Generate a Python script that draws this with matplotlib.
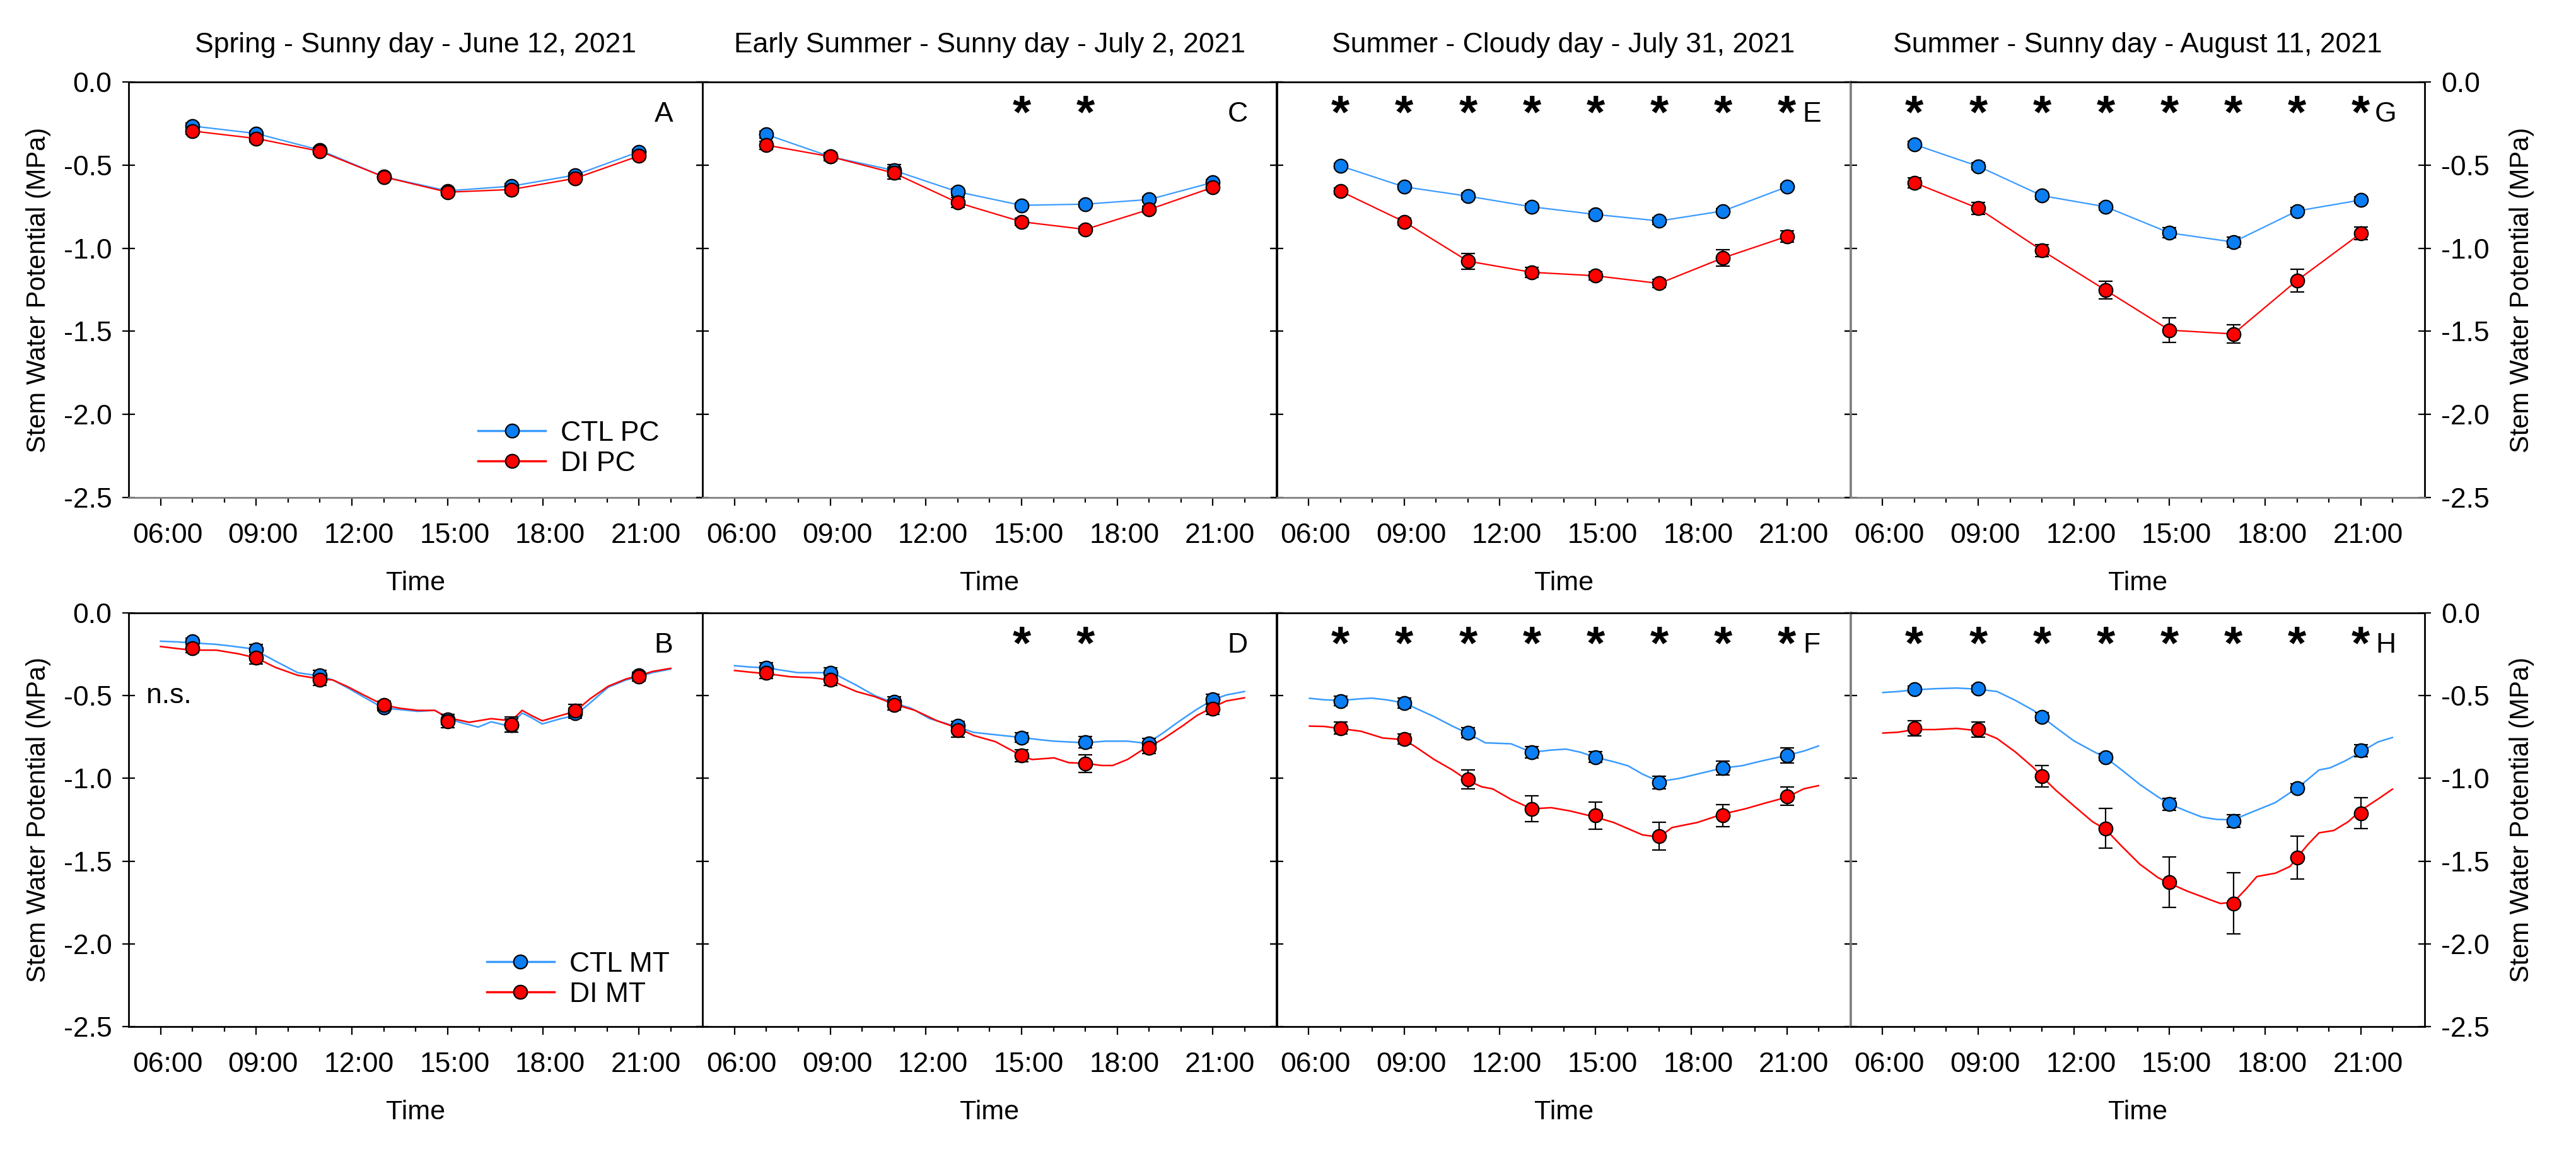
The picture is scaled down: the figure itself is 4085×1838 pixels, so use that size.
import matplotlib
matplotlib.use('Agg')
import matplotlib.pyplot as plt
import matplotlib.transforms as mtransforms
from matplotlib.lines import Line2D

plt.rcParams['font.family'] = ['Liberation Sans', 'DejaVu Sans']

# ---------------- data ----------------
obs_time = [7, 9, 11, 13, 15, 17, 19, 21]
xtick_pos = [6, 9, 12, 15, 18, 21]
xtick_labels = ['06:00', '09:00', '12:00', '15:00', '18:00', '21:00']
ytick_pos = [0.0, -0.5, -1.0, -1.5, -2.0, -2.5]
ytick_labels = ['0.0', '-0.5', '-1.0', '-1.5', '-2.0', '-2.5']

titles = ['Spring - Sunny day - June 12, 2021',
          'Early Summer - Sunny day - July 2, 2021',
          'Summer - Cloudy day - July 31, 2021',
          'Summer - Sunny day - August 11, 2021']
panel_letters_top = ['A', 'C', 'E', 'G']
panel_letters_bot = ['B', 'D', 'F', 'H']
legend_top = ['CTL PC', 'DI PC']
legend_bot = ['CTL MT', 'DI MT']

# Top row (PC) means and SE
ctl_pc_A = [-0.265, -0.31, -0.41, -0.57, -0.655, -0.627, -0.56, -0.42]
di_pc_A = [-0.295, -0.34, -0.417, -0.571, -0.663, -0.647, -0.58, -0.445]
ctl_pc_A_se = [0.02, 0.015, 0.015, 0.015, 0.015, 0.015, 0.015, 0.015]
di_pc_A_se = [0.02, 0.02, 0.015, 0.015, 0.02, 0.02, 0.02, 0.015]

ctl_pc_C = [-0.316, -0.449, -0.532, -0.661, -0.742, -0.735, -0.707, -0.604]
di_pc_C = [-0.380, -0.449, -0.548, -0.726, -0.841, -0.887, -0.767, -0.634]
ctl_pc_C_se = [0.02, 0.02, 0.035, 0.02, 0.015, 0.015, 0.015, 0.015]
di_pc_C_se = [0.025, 0.025, 0.035, 0.03, 0.02, 0.02, 0.02, 0.02]

ctl_pc_E = [-0.505, -0.631, -0.687, -0.751, -0.797, -0.836, -0.776, -0.631]
di_pc_E = [-0.657, -0.841, -1.078, -1.145, -1.166, -1.212, -1.058, -0.929]
ctl_pc_E_se = [0.015, 0.015, 0.02, 0.02, 0.02, 0.02, 0.015, 0.015]
di_pc_E_se = [0.02, 0.02, 0.047, 0.03, 0.025, 0.025, 0.05, 0.035]

ctl_pc_G = [-0.376, -0.507, -0.684, -0.751, -0.908, -0.963, -0.776, -0.710]
di_pc_G = [-0.606, -0.760, -1.014, -1.253, -1.493, -1.516, -1.194, -0.910]
ctl_pc_G_se = [0.02, 0.02, 0.02, 0.02, 0.03, 0.03, 0.02, 0.02]
di_pc_G_se = [0.03, 0.035, 0.035, 0.053, 0.075, 0.055, 0.068, 0.037]

# Bottom row (MT) means and SE
ctl_mt_B = [-0.171, -0.222, -0.377, -0.57, -0.645, -0.68, -0.605, -0.378]
di_mt_B = [-0.215, -0.272, -0.405, -0.557, -0.655, -0.675, -0.589, -0.386]
ctl_mt_B_se = [0.02, 0.03, 0.03, 0.02, 0.03, 0.04, 0.03, 0.02]
di_mt_B_se = [0.025, 0.035, 0.035, 0.025, 0.04, 0.045, 0.035, 0.025]

ctl_mt_D = [-0.332, -0.361, -0.538, -0.684, -0.753, -0.782, -0.790, -0.522]
di_mt_D = [-0.361, -0.405, -0.557, -0.709, -0.863, -0.911, -0.816, -0.580]
ctl_mt_D_se = [0.03, 0.03, 0.03, 0.03, 0.03, 0.035, 0.03, 0.03]
di_mt_D_se = [0.035, 0.035, 0.03, 0.04, 0.035, 0.055, 0.035, 0.035]

ctl_mt_F = [-0.532, -0.544, -0.724, -0.842, -0.871, -1.025, -0.939, -0.861]
di_mt_F = [-0.696, -0.763, -1.006, -1.184, -1.225, -1.348, -1.225, -1.108]
ctl_mt_F_se = [0.03, 0.03, 0.03, 0.035, 0.034, 0.037, 0.042, 0.046]
di_mt_F_se = [0.035, 0.03, 0.058, 0.079, 0.081, 0.084, 0.068, 0.055]

ctl_mt_H = [-0.461, -0.458, -0.627, -0.871, -1.155, -1.258, -1.058, -0.831]
di_mt_H = [-0.698, -0.705, -0.987, -1.302, -1.627, -1.756, -1.478, -1.210]
ctl_mt_H_se = [0.02, 0.02, 0.025, 0.02, 0.036, 0.037, 0.025, 0.036]
di_mt_H_se = [0.046, 0.045, 0.066, 0.119, 0.154, 0.184, 0.13, 0.093]

# Continuous curves (bottom row)
ctl_curve_B_t = [6.0, 6.5, 7.0, 7.75, 8.2, 8.8, 9.0, 9.6, 10.3, 10.7, 11.0, 11.4, 11.9, 12.35, 13.0, 13.4, 14.07,
                 14.6, 15.0, 15.33, 15.96, 16.37, 16.94, 17.34, 17.63, 17.97, 18.55, 19.0, 19.47, 20.04, 20.6, 21.0,
                 21.42, 22.0]
ctl_curve_B_v = [-0.171, -0.175, -0.181, -0.190, -0.200, -0.215, -0.228, -0.291, -0.361, -0.373, -0.380, -0.405,
                 -0.456, -0.506, -0.576, -0.582, -0.595, -0.589, -0.633, -0.658, -0.690, -0.658, -0.684, -0.605,
                 -0.633, -0.671, -0.639, -0.620, -0.544, -0.449, -0.405, -0.386, -0.361, -0.339]
di_curve_B_t = [6.0, 6.5, 7.0, 7.75, 8.44, 9.0, 9.6, 10.3, 11.0, 11.4, 11.9, 12.35, 13.0, 13.5, 14.07, 14.6, 15.0,
                15.68, 16.37, 17.0, 17.34, 17.63, 17.97, 18.55, 19.0, 19.47, 20.04, 20.6, 21.0, 21.42, 22.0]
di_curve_B_v = [-0.203, -0.215, -0.225, -0.225, -0.247, -0.272, -0.329, -0.377, -0.399, -0.405, -0.449, -0.494,
                -0.557, -0.576, -0.589, -0.589, -0.633, -0.661, -0.639, -0.652, -0.589, -0.620, -0.652, -0.620,
                -0.595, -0.519, -0.443, -0.399, -0.380, -0.354, -0.335]

ctl_curve_D_t = [6.0, 6.49, 7.0, 7.98, 9.0, 9.25, 9.82, 10.40, 11.0, 11.54, 12.12, 12.58, 13.0, 13.5, 14.07, 15.0,
                 15.56, 16.02, 17.0, 17.63, 18.32, 18.78, 19.0, 19.46, 19.92, 20.5, 21.0, 21.42, 21.99]
ctl_curve_D_v = [-0.319, -0.327, -0.332, -0.361, -0.361, -0.380, -0.437, -0.500, -0.544, -0.576, -0.639, -0.665,
                 -0.690, -0.722, -0.734, -0.753, -0.766, -0.775, -0.785, -0.775, -0.775, -0.785, -0.782, -0.722,
                 -0.658, -0.582, -0.525, -0.496, -0.475]
di_curve_D_t = [6.0, 6.49, 7.0, 7.76, 8.44, 9.0, 9.36, 9.82, 10.40, 11.0, 11.66, 12.35, 13.0, 13.5, 14.18, 15.0,
                15.33, 16.02, 16.48, 17.0, 17.51, 17.86, 18.32, 18.78, 19.0, 19.46, 20.04, 20.5, 21.0, 21.42, 21.99]
di_curve_D_v = [-0.348, -0.358, -0.367, -0.386, -0.392, -0.405, -0.437, -0.475, -0.506, -0.551, -0.589, -0.652,
                -0.696, -0.741, -0.778, -0.863, -0.886, -0.876, -0.905, -0.909, -0.922, -0.922, -0.886, -0.829,
                -0.810, -0.759, -0.684, -0.620, -0.570, -0.532, -0.513]

ctl_curve_F_t = [6.03, 6.49, 7.0, 7.64, 7.98, 8.44, 9.0, 9.36, 9.94, 10.51, 11.0, 11.54, 12.35, 13.0, 13.61, 14.07,
                 14.53, 15.0, 15.56, 16.02, 16.48, 17.0, 17.63, 18.32, 19.0, 19.58, 20.27, 21.0, 21.53, 21.99]
ctl_curve_F_v = [-0.516, -0.525, -0.529, -0.519, -0.515, -0.525, -0.544, -0.576, -0.627, -0.684, -0.728, -0.785,
                 -0.791, -0.842, -0.829, -0.823, -0.842, -0.873, -0.899, -0.924, -0.975, -1.019, -1.000, -0.968,
                 -0.937, -0.924, -0.892, -0.861, -0.835, -0.804]
di_curve_F_t = [6.03, 6.49, 7.0, 7.64, 8.33, 9.0, 9.36, 9.94, 10.51, 11.0, 11.43, 11.77, 12.35, 13.0, 13.61, 14.18,
                15.0, 15.56, 16.02, 16.48, 17.0, 17.40, 18.20, 19.0, 19.69, 20.38, 21.0, 21.53, 21.99]
di_curve_F_v = [-0.684, -0.686, -0.699, -0.715, -0.756, -0.766, -0.810, -0.886, -0.949, -1.013, -1.051, -1.063,
                -1.127, -1.184, -1.177, -1.196, -1.234, -1.266, -1.304, -1.342, -1.354, -1.297, -1.266, -1.215,
                -1.184, -1.146, -1.114, -1.063, -1.044]

ctl_curve_H_t = [6.01, 6.49, 7.0, 7.64, 8.33, 9.0, 9.59, 10.17, 10.74, 11.0, 11.43, 12.0, 12.58, 13.0, 13.5, 14.07,
                 14.64, 15.0, 15.56, 16.02, 16.48, 17.0, 17.63, 18.32, 19.0, 19.35, 19.69, 20.04, 20.5, 21.0, 21.53,
                 21.99]
ctl_curve_H_v = [-0.481, -0.475, -0.465, -0.458, -0.454, -0.461, -0.475, -0.529, -0.590, -0.627, -0.692, -0.773,
                 -0.834, -0.875, -0.949, -1.037, -1.112, -1.155, -1.200, -1.234, -1.248, -1.250, -1.200, -1.146,
                 -1.058, -1.004, -0.949, -0.936, -0.895, -0.841, -0.780, -0.753]
di_curve_H_t = [6.01, 6.49, 7.0, 7.64, 8.33, 9.0, 9.59, 10.17, 10.74, 11.0, 11.43, 12.0, 12.58, 13.0, 13.5, 14.07,
                14.64, 15.0, 15.56, 16.02, 16.59, 17.0, 17.40, 17.74, 18.32, 18.78, 19.0, 19.35, 19.69, 20.15, 20.61,
                21.0, 21.53, 21.99]
di_curve_H_v = [-0.726, -0.721, -0.705, -0.705, -0.698, -0.712, -0.759, -0.841, -0.936, -0.990, -1.071, -1.166,
                -1.261, -1.309, -1.410, -1.519, -1.600, -1.634, -1.682, -1.715, -1.756, -1.749, -1.668, -1.593,
                -1.573, -1.532, -1.478, -1.397, -1.329, -1.315, -1.261, -1.193, -1.126, -1.065]

star_times_C = [15, 17]
star_times_E = obs_time
star_times_G = obs_time

# ---------------- styling ----------------
W, H = 4085, 1838
DPI = 100
BLUE_FACE = '#0A7EF2'
BLUE_LINE = '#3A9BFF'
RED_FACE = '#FF0000'
RED_LINE = '#FF0000'
GRAY = '#808080'
FS = 32

top_panels = [
    (ctl_pc_A, ctl_pc_A_se, di_pc_A, di_pc_A_se, []),
    (ctl_pc_C, ctl_pc_C_se, di_pc_C, di_pc_C_se, star_times_C),
    (ctl_pc_E, ctl_pc_E_se, di_pc_E, di_pc_E_se, star_times_E),
    (ctl_pc_G, ctl_pc_G_se, di_pc_G, di_pc_G_se, star_times_G),
]
bot_panels = [
    (ctl_mt_B, ctl_mt_B_se, di_mt_B, di_mt_B_se, [], (ctl_curve_B_t, ctl_curve_B_v), (di_curve_B_t, di_curve_B_v)),
    (ctl_mt_D, ctl_mt_D_se, di_mt_D, di_mt_D_se, star_times_C, (ctl_curve_D_t, ctl_curve_D_v), (di_curve_D_t, di_curve_D_v)),
    (ctl_mt_F, ctl_mt_F_se, di_mt_F, di_mt_F_se, star_times_E, (ctl_curve_F_t, ctl_curve_F_v), (di_curve_F_t, di_curve_F_v)),
    (ctl_mt_H, ctl_mt_H_se, di_mt_H, di_mt_H_se, star_times_G, (ctl_curve_H_t, ctl_curve_H_v), (di_curve_H_t, di_curve_H_v)),
]

fig = plt.figure(figsize=(W / DPI, H / DPI), dpi=DPI)
px_left, px_right = 204, 3845
rows_px = [(130, 789), (972, 1628)]
pw = (px_right - px_left) / 4.0

marker_kw = dict(marker='o', ms=15.5, mew=1.6, mec='black')
err_kw = dict(ecolor='black', elinewidth=1.6, capsize=8, capthick=1.6)


def style_axes(ax, col, row):
    ax.set_xlim(5, 23)
    ax.set_ylim(-2.5, 0)
    ax.set_xticks(xtick_pos)
    ax.set_xticklabels(xtick_labels)
    ax.set_xticks([h for h in range(6, 23) if h not in xtick_pos], minor=True)
    ax.set_yticks(ytick_pos)
    ax.set_yticklabels(ytick_labels)
    ax.tick_params(axis='y', which='major', direction='inout', length=14, width=1.6,
                   left=True, right=True, labelleft=(col == 0), labelright=(col == 3),
                   labelsize=FS, pad=12)
    ax.tick_params(axis='x', which='major', direction='out', length=9, width=1.6,
                   labelsize=FS, pad=20)
    ax.tick_params(axis='x', which='minor', direction='out', length=6, width=1.6)
    for sp in ax.spines.values():
        sp.set_linewidth(2.0)
        sp.set_color('black')
    if row == 0:
        ax.spines['bottom'].set_color(GRAY)
    if col == 2:
        ax.spines['right'].set_color(GRAY)
        ax.spines['right'].set_linewidth(2.6)
    if col == 3:
        ax.spines['left'].set_color(GRAY)
        ax.spines['left'].set_linewidth(2.6)
    ax.set_xlabel('Time', fontsize=31, labelpad=25)
    if col == 0:
        ax.set_ylabel('Stem Water Potential (MPa)', fontsize=30, labelpad=14)
    if col == 3:
        ax.yaxis.set_label_position('right')
        ax.set_ylabel('Stem Water Potential (MPa)', fontsize=30, labelpad=22)
    shift = mtransforms.ScaledTranslation(8 / 72.0, 0, fig.dpi_scale_trans)
    for lab in ax.get_xticklabels():
        lab.set_transform(lab.get_transform() + shift)


def add_stars(ax, times):
    fs_star = 54
    for t in times:
        ax.annotate('*', xy=(t, -0.11), xytext=(0, -0.575 * fs_star), textcoords='offset points',
                    ha='center', va='baseline', fontsize=fs_star, fontweight='bold')


for row, (top, bot) in enumerate(rows_px):
    for col in range(4):
        l = (px_left + col * pw) / W
        b = 1 - bot / H
        ax = fig.add_axes([l, b, pw / W, (bot - top) / H])
        style_axes(ax, col, row)
        if row == 0:
            ctl, ctl_se, di, di_se, stars = top_panels[col]
            ax.errorbar(obs_time, ctl, yerr=ctl_se, fmt='-', color=BLUE_LINE, lw=1.6,
                        mfc=BLUE_FACE, zorder=3, **marker_kw, **err_kw)
            ax.errorbar(obs_time, di, yerr=di_se, fmt='-', color=RED_LINE, lw=1.6,
                        mfc=RED_FACE, zorder=4, **marker_kw, **err_kw)
            ax.set_title(titles[col], fontsize=FS, pad=34)
            letter = panel_letters_top[col]
        else:
            ctl, ctl_se, di, di_se, stars, cc, dc = bot_panels[col]
            ax.plot(cc[0], cc[1], color=BLUE_LINE, lw=1.8, zorder=2)
            ax.plot(dc[0], dc[1], color=RED_LINE, lw=1.8, zorder=2)
            ax.errorbar(obs_time, ctl, yerr=ctl_se, fmt='none', zorder=3, **err_kw)
            ax.errorbar(obs_time, di, yerr=di_se, fmt='none', zorder=3, **err_kw)
            ax.plot(obs_time, ctl, ls='none', mfc=BLUE_FACE, zorder=4, **marker_kw)
            ax.plot(obs_time, di, ls='none', mfc=RED_FACE, zorder=5, **marker_kw)
            letter = panel_letters_bot[col]
        add_stars(ax, stars)
        ax.text(21.78, -0.195, letter, fontsize=FS, ha='center', va='center')
        if col == 0:
            names = legend_top if row == 0 else legend_bot
            h1 = Line2D([], [], color=BLUE_LINE, lw=2.5, mfc=BLUE_FACE, **marker_kw)
            h2 = Line2D([], [], color=RED_LINE, lw=2.5, mfc=RED_FACE, **marker_kw)
            anchor = (0.609, 0.118) if row == 0 else (0.624, 0.114)
            ax.legend([h1, h2], names, loc='center left', bbox_to_anchor=anchor, frameon=False,
                      fontsize=FS, handlelength=2.4, handletextpad=0.55, labelspacing=0.15,
                      borderpad=0, borderaxespad=0)
        if row == 1 and col == 0:
            ax.text(5.55, -0.5, 'n.s.', fontsize=FS, ha='left', va='center')

fig.savefig('out.png', dpi=DPI)
